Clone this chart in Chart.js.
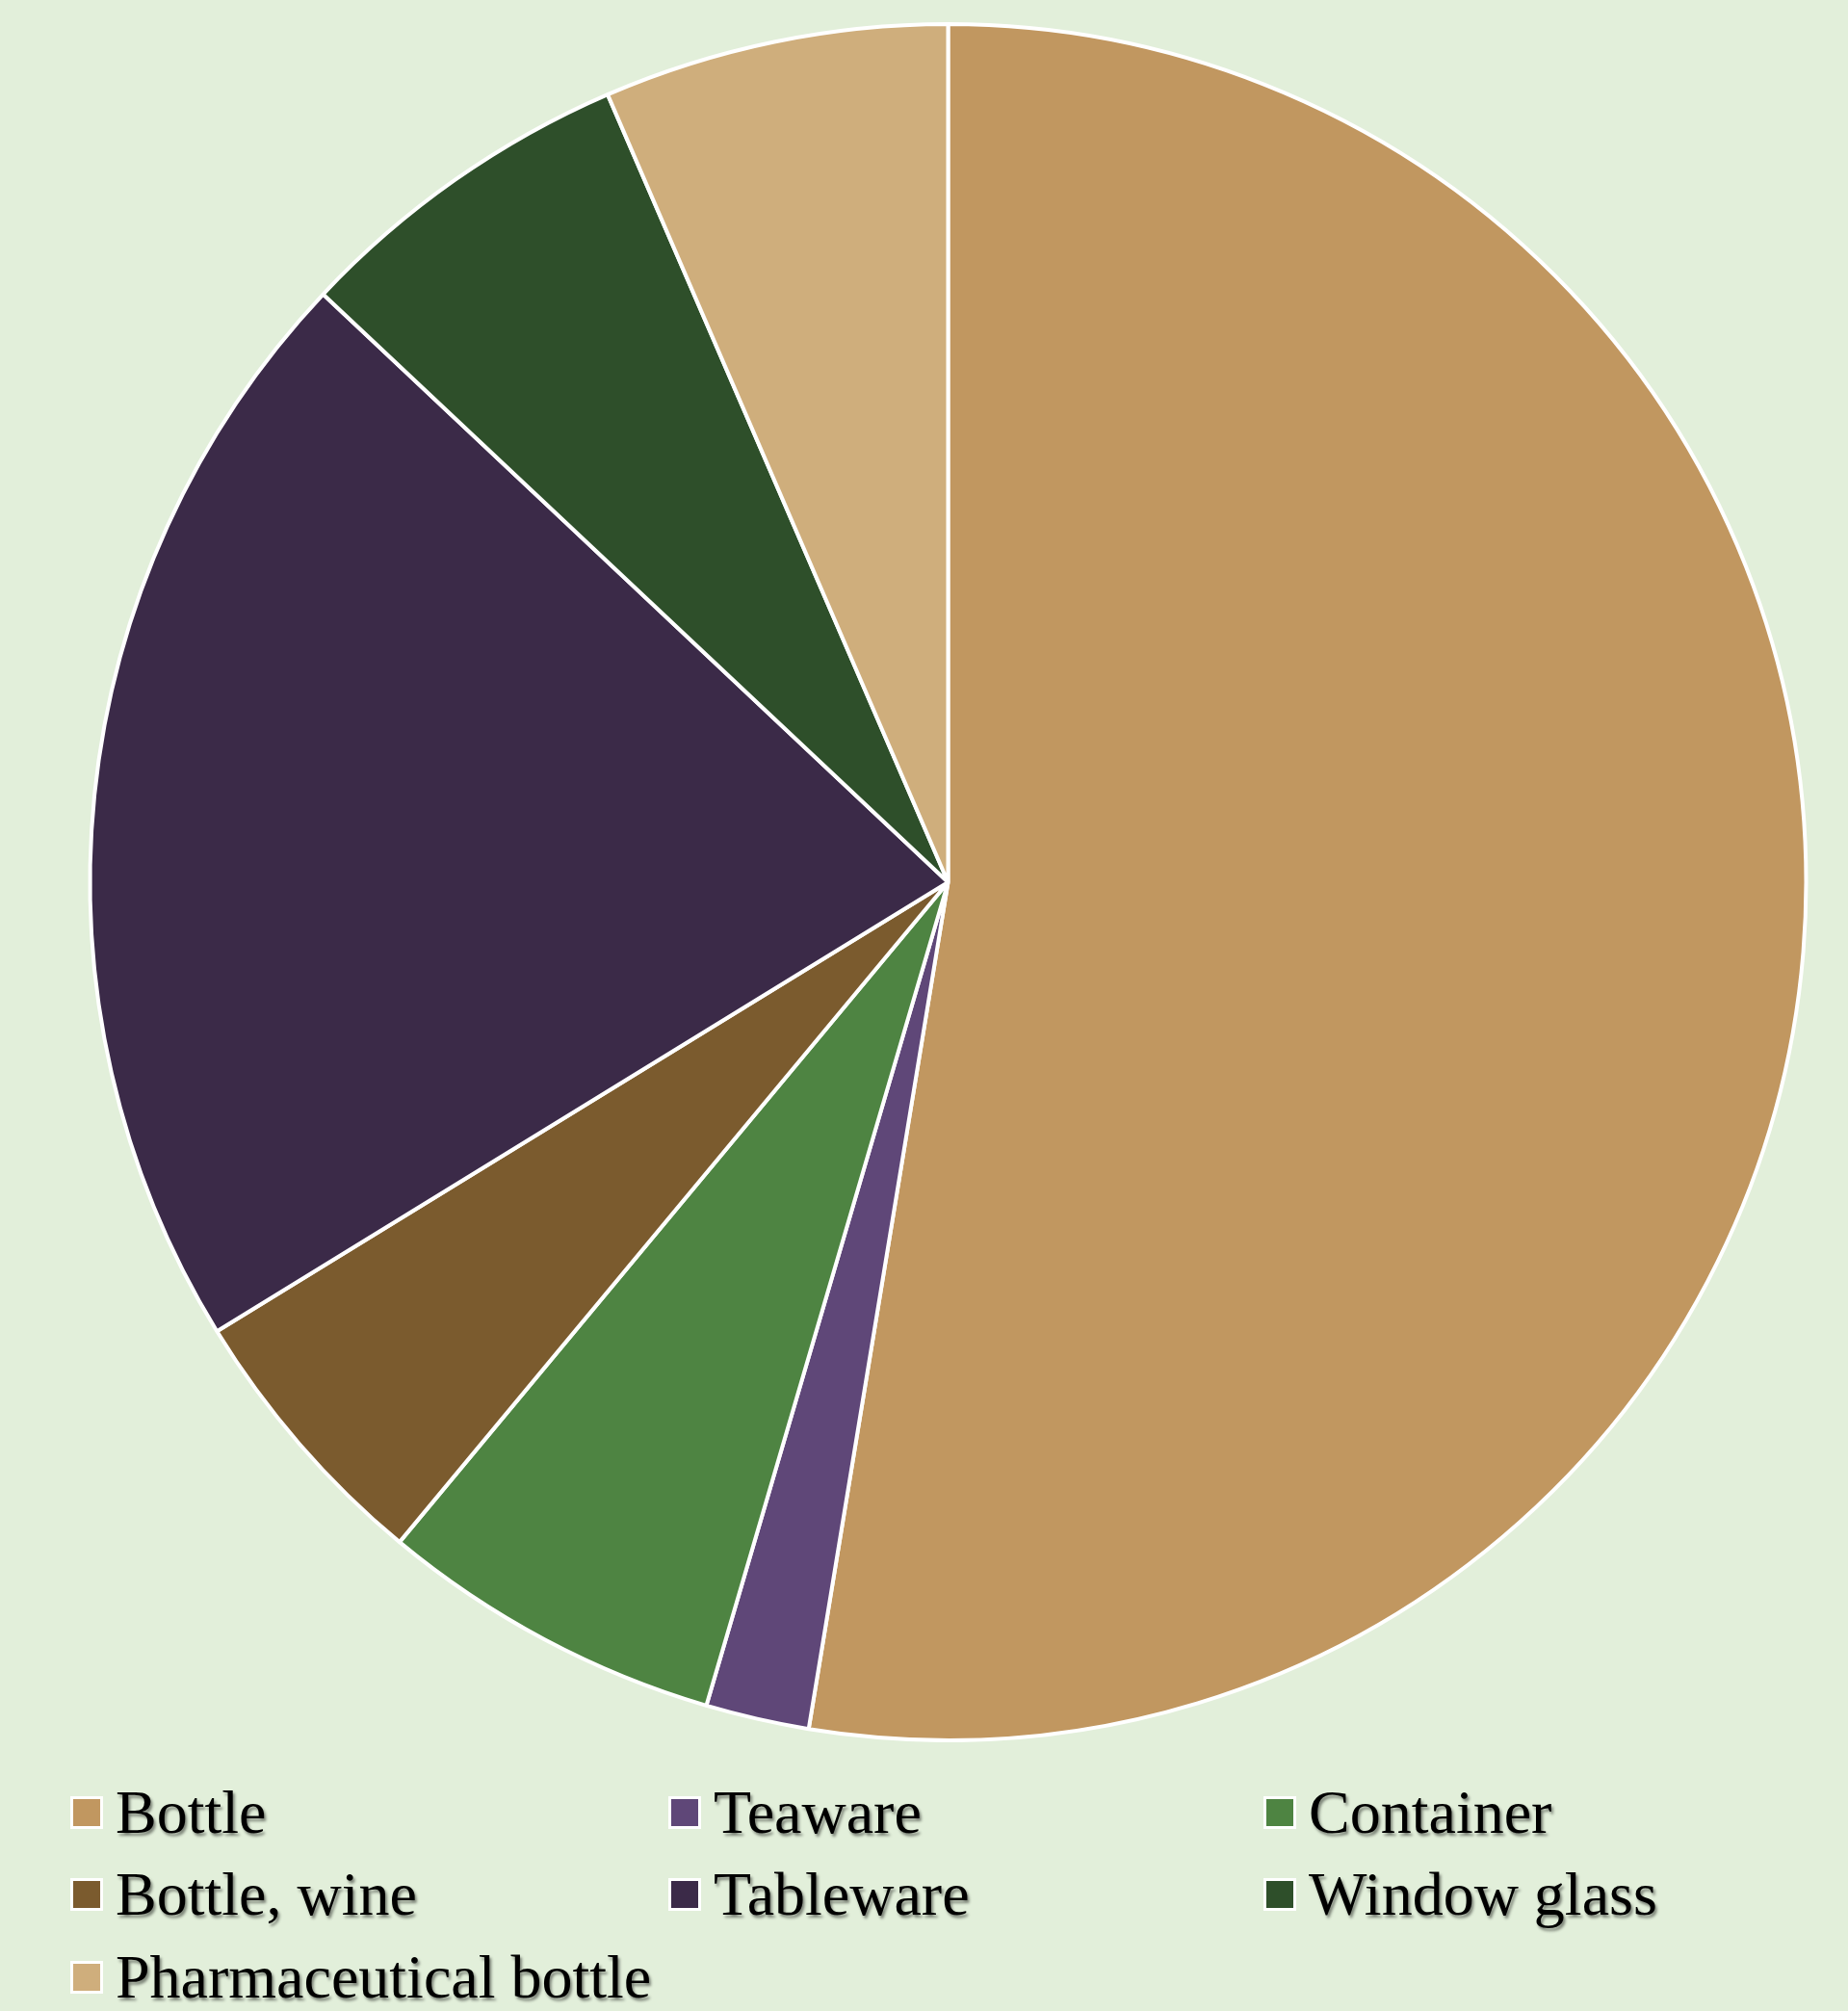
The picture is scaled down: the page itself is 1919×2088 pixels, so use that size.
<!DOCTYPE html>
<html>
<head>
<meta charset="utf-8">
<script src="https://cdn.jsdelivr.net/npm/chart.js@4/dist/chart.umd.min.js"></script>
<style>
  html, body { margin: 0; padding: 0; background: #E2EFDA; }
  body { width: 1919px; height: 2088px; position: relative; overflow: hidden; }
  #wrap { position: absolute; left: 0; top: 0; width: 1919px; height: 1809px; }
  #legend { position: absolute; left: 0; top: 0; width: 1919px; height: 2088px; pointer-events: none; }
  .item { position: absolute; display: flex; align-items: center; height: 80px;
          font-family: "Liberation Serif", "Times New Roman", serif; font-size: 64px; color: #000;
          text-shadow: 2px 3px 3px rgba(0,0,0,0.45); white-space: nowrap; }
  .box { width: 28px; height: 28px; border: 3px solid #fff; margin-right: 13px; box-sizing: content-box; }
</style>
</head>
<body>
<div id="wrap"><canvas id="pie"></canvas></div>
<div id="legend"></div>
<script>
const categories = ["Bottle", "Teaware", "Container", "Bottle, wine", "Tableware", "Window glass", "Pharmaceutical bottle"];
const counts = [81, 3, 10, 8, 32, 10, 10];
const sliceColors = ["#C19760", "#5F4778", "#4E8442", "#7B5B2E", "#3B2A48", "#2E4F2A", "#CFAE7C"];

function renderPie(element){
  let configurations = {
    type: 'pie',
    data: {
      labels: categories,
      datasets: [{
        data: counts,
        backgroundColor: sliceColors,
        borderColor: '#ffffff',
        borderWidth: 4
      }]
    },
    options: {
      responsive: true,
      maintainAspectRatio: false,
      animation: false,
      layout: { padding: { left: 50, top: 23, right: 0, bottom: 0 } },
      plugins: {
        legend: { display: false },
        tooltip: { enabled: false }
      }
    }
  }
  return new Chart(element, configurations)
}

const chart = renderPie(document.getElementById('pie'));

// legend in three columns, built from the chart's own data
const colX = [73, 694, 1312];
const rowY = [1842, 1927, 2013];
const legend = document.getElementById('legend');
chart.data.labels.forEach((label, i) => {
  const item = document.createElement('div');
  item.className = 'item';
  item.style.left = colX[i % 3] + 'px';
  item.style.top = rowY[Math.floor(i / 3)] + 'px';
  const box = document.createElement('span');
  box.className = 'box';
  box.style.background = chart.data.datasets[0].backgroundColor[i];
  item.appendChild(box);
  item.appendChild(document.createTextNode(label));
  legend.appendChild(item);
});
</script>
</body>
</html>
